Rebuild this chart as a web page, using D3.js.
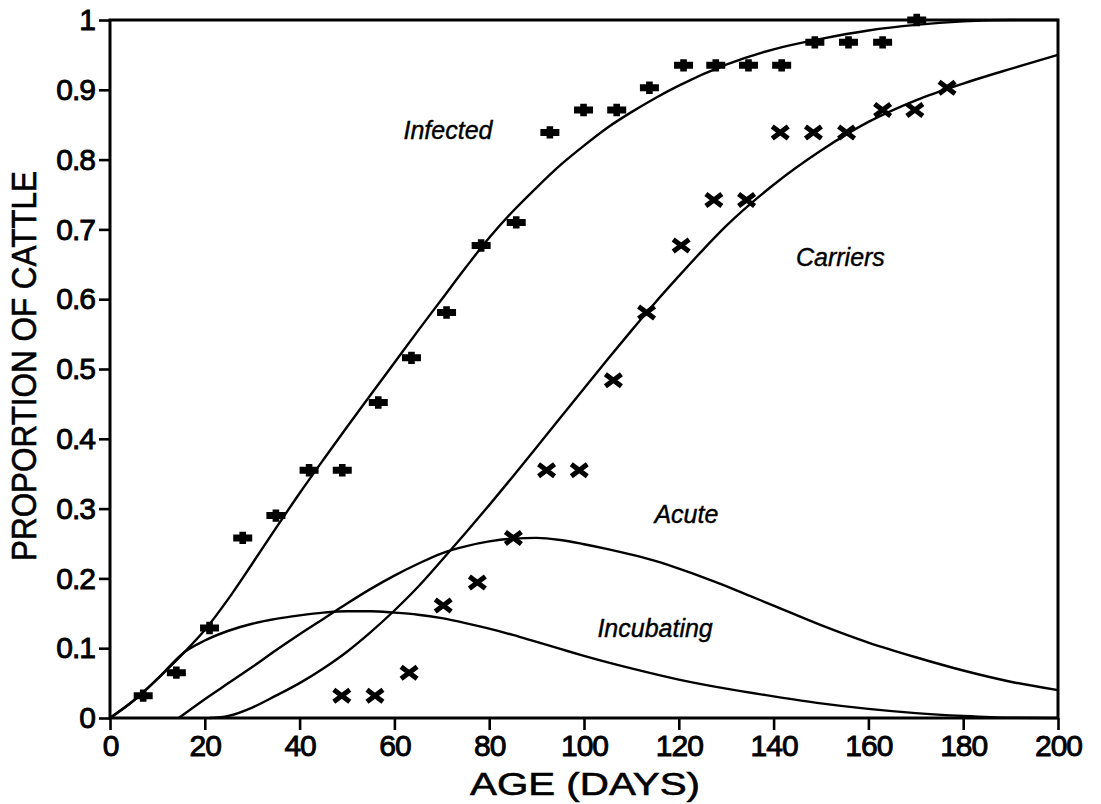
<!DOCTYPE html>
<html>
<head>
<meta charset="utf-8">
<script src="https://cdn.jsdelivr.net/npm/d3@7/dist/d3.min.js"></script>
<style>
  html, body { margin: 0; padding: 0; background: #fff; }
  svg { display: block; }
  text { font-family: "Liberation Sans", Arial, Helvetica, sans-serif; fill: #000; }
</style>
</head>
<body>
<svg id="chart" width="1101" height="804"></svg>
<script>
// Observed proportions (n = 31 animals) by age in days
const infectedDays = [7, 14, 21, 28, 35, 42, 49, 56.6, 63.6, 71, 78.3, 85.7, 92.8, 99.9, 106.9, 113.8, 121, 127.8, 134.7, 141.7, 148.7, 155.8, 163, 170.2];
const infectedProp = [0.032, 0.065, 0.129, 0.258, 0.290, 0.355, 0.355, 0.452, 0.516, 0.581, 0.677, 0.710, 0.839, 0.871, 0.871, 0.903, 0.935, 0.935, 0.935, 0.935, 0.968, 0.968, 0.968, 1.0];

const carrierDays = [48.9, 55.9, 63.1, 70.3, 77.5, 85.1, 92.1, 99, 106.2, 113.2, 120.5, 127.4, 134.3, 141.4, 148.4, 155.4, 163, 169.8, 176.6];
const carrierProp = [0.032, 0.032, 0.065, 0.161, 0.194, 0.258, 0.355, 0.355, 0.484, 0.581, 0.677, 0.742, 0.742, 0.839, 0.839, 0.839, 0.871, 0.871, 0.903];

// Model curves, sampled by age (days)
const infectedCurveDays = [0, 5, 10, 15.8, 20, 25, 30, 35, 40, 45, 50, 55, 60, 65, 70, 75, 80, 85, 90, 95, 100, 105, 110, 115, 120, 130, 140, 150, 160, 170, 180, 190, 200];
const infectedCurve     = [0, 0.025, 0.056, 0.095, 0.126, 0.171, 0.221, 0.272, 0.322, 0.370, 0.417, 0.463, 0.509, 0.555, 0.600, 0.645, 0.688, 0.726, 0.760, 0.792, 0.820, 0.846, 0.868, 0.888, 0.906, 0.936, 0.958, 0.973, 0.985, 0.993, 0.998, 1.0, 1.0];

const carrierCurveDays = [21, 25, 30, 35, 40, 45, 50, 55, 60, 65, 70, 75, 80, 85, 90, 95, 100, 105, 110, 115, 120, 125, 130, 140, 150, 160, 170, 180, 190, 200];
const carrierCurve     = [0, 0.003, 0.015, 0.032, 0.050, 0.071, 0.095, 0.123, 0.154, 0.188, 0.226, 0.265, 0.305, 0.346, 0.388, 0.430, 0.472, 0.514, 0.555, 0.595, 0.633, 0.670, 0.705, 0.764, 0.813, 0.854, 0.885, 0.909, 0.930, 0.950];

const acuteCurveDays = [14.5, 20, 25, 30, 35, 40, 45, 50, 55, 60, 65, 70, 75, 80, 85, 90, 95, 100, 105, 110, 115, 120, 125, 130, 135, 140, 150, 160, 170, 180, 190, 200];
const acuteCurve     = [0, 0.027, 0.050, 0.073, 0.097, 0.120, 0.142, 0.164, 0.185, 0.204, 0.221, 0.236, 0.246, 0.253, 0.257, 0.258, 0.255, 0.249, 0.242, 0.234, 0.225, 0.214, 0.202, 0.189, 0.175, 0.161, 0.133, 0.108, 0.087, 0.068, 0.052, 0.040];

const incubatingCurveDays = [0, 5, 10, 15.8, 20, 25, 30, 35, 40, 45, 50, 55, 60, 65, 70, 75, 80, 85, 90, 95, 100, 110, 120, 130, 140, 150, 160, 170, 180, 190, 200];
const incubatingCurve     = [0, 0.025, 0.056, 0.095, 0.111, 0.125, 0.135, 0.142, 0.147, 0.151, 0.153, 0.153, 0.151, 0.148, 0.143, 0.136, 0.128, 0.119, 0.109, 0.099, 0.089, 0.071, 0.055, 0.042, 0.031, 0.021, 0.013, 0.007, 0.003, 0.0005, 0];

const xTicks = [0, 20, 40, 60, 80, 100, 120, 140, 160, 180, 200];
const yTicks = [0, 0.1, 0.2, 0.3, 0.4, 0.5, 0.6, 0.7, 0.8, 0.9, 1];
const yTickLabels = ["0", "0.1", "0.2", "0.3", "0.4", "0.5", "0.6", "0.7", "0.8", "0.9", "1"];

const curveLabels = [
  { text: "Infected",   day: 71.3,  value: 0.829 },
  { text: "Carriers",   day: 154.1, value: 0.648 },
  { text: "Acute",      day: 121.6, value: 0.280 },
  { text: "Incubating", day: 115.0, value: 0.116 }
];

const svg = d3.select("#chart");
const plotLeft = 110, plotRight = 1058, plotTop = 20, plotBottom = 718;

const x = d3.scaleLinear().domain([0, 200]).range([plotLeft, plotRight]);
const y = d3.scaleLinear().domain([0, 1]).range([plotBottom, plotTop]);

// Axes with ticks only (frame drawn separately)
const xAxis = d3.axisBottom(x).tickValues(xTicks).tickSize(12).tickPadding(5).tickFormat(d3.format("d"));
const yAxis = d3.axisLeft(y).tickValues(yTicks).tickSize(11).tickPadding(4).tickFormat((d, i) => yTickLabels[i]);

const gx = svg.append("g").attr("transform", `translate(0,${plotBottom})`).call(xAxis);
const gy = svg.append("g").attr("transform", `translate(${plotLeft},0)`).call(yAxis);
[gx, gy].forEach(g => {
  g.select(".domain").remove();
  g.selectAll(".tick line").attr("stroke", "#000").attr("stroke-width", 2.6);
  g.selectAll(".tick text")
    .style("font-size", "30px")
    .attr("fill", "#000")
    .attr("stroke", "#000")
    .attr("stroke-width", 0.9)
    .style("letter-spacing", "-1px");
});

// Plot frame
svg.append("rect")
  .attr("x", plotLeft).attr("y", plotTop)
  .attr("width", plotRight - plotLeft).attr("height", plotBottom - plotTop)
  .attr("fill", "none").attr("stroke", "#000").attr("stroke-width", 3);

// Model curves
const line = d3.line().x(d => x(d[0])).y(d => y(d[1])).curve(d3.curveMonotoneX);
const curves = [
  d3.zip(infectedCurveDays, infectedCurve),
  d3.zip(carrierCurveDays, carrierCurve),
  d3.zip(acuteCurveDays, acuteCurve),
  d3.zip(incubatingCurveDays, incubatingCurve)
];
svg.append("g").selectAll("path").data(curves).join("path")
  .attr("d", line)
  .attr("fill", "none")
  .attr("stroke", "#000")
  .attr("stroke-width", 2.4)
  .attr("stroke-linejoin", "round");

// Infected observations: heavy plus markers
const plusPath = "M-9.5,-3.5H9.5V3.5H-9.5Z M-3.3,-6.2H3.3V6.2H-3.3Z";
svg.append("g").selectAll("path").data(d3.zip(infectedDays, infectedProp)).join("path")
  .attr("transform", d => `translate(${x(d[0])},${y(d[1])})`)
  .attr("d", plusPath)
  .attr("fill", "#000");

// Carrier observations: heavy cross markers
const crossPath = "M-8,-6L8,6M-8,6L8,-6";
svg.append("g").selectAll("path").data(d3.zip(carrierDays, carrierProp)).join("path")
  .attr("transform", d => `translate(${x(d[0])},${y(d[1])})`)
  .attr("d", crossPath)
  .attr("fill", "none")
  .attr("stroke", "#000")
  .attr("stroke-width", 5);

// Curve names
svg.append("g").selectAll("text").data(curveLabels).join("text")
  .attr("x", d => x(d.day))
  .attr("y", d => y(d.value))
  .attr("text-anchor", "middle")
  .attr("stroke", "#000")
  .attr("stroke-width", 0.4)
  .style("font-size", "25px")
  .style("font-style", "italic")
  .text(d => d.text);

// Axis titles
svg.append("text")
  .attr("x", (plotLeft + plotRight) / 2 + 1)
  .attr("y", 795)
  .attr("text-anchor", "middle")
  .attr("textLength", 230)
  .attr("lengthAdjust", "spacingAndGlyphs")
  .attr("stroke", "#000")
  .attr("stroke-width", 0.6)
  .style("font-size", "32px")
  .text("AGE (DAYS)");

svg.append("text")
  .attr("transform", "translate(36,366) rotate(-90)")
  .attr("text-anchor", "middle")
  .attr("textLength", 390)
  .attr("lengthAdjust", "spacingAndGlyphs")
  .attr("stroke", "#000")
  .attr("stroke-width", 0.6)
  .style("font-size", "35px")
  .text("PROPORTION OF CATTLE");
</script>
</body>
</html>
